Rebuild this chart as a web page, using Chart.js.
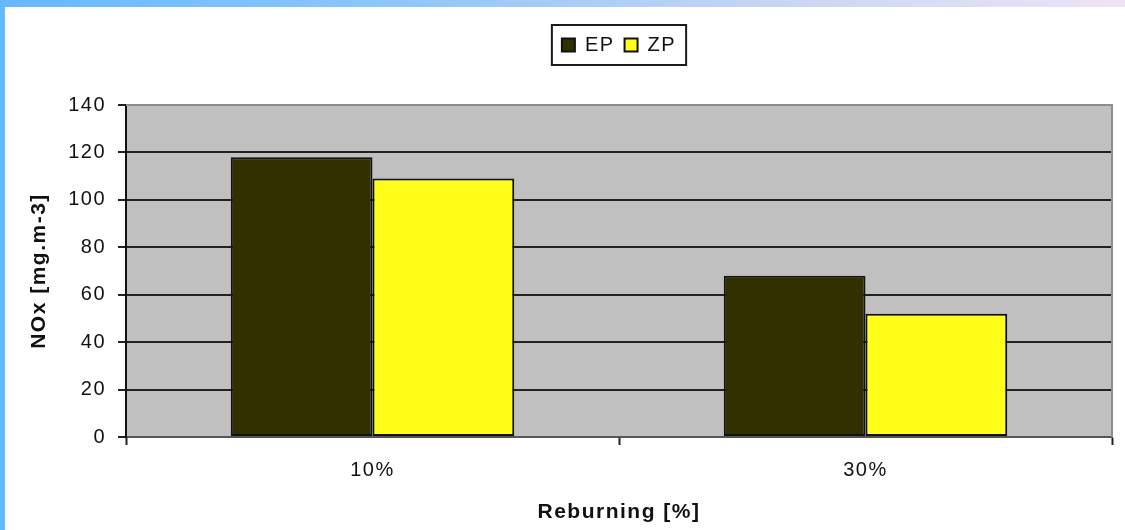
<!DOCTYPE html>
<html>
<head>
<meta charset="utf-8">
<script src="https://cdn.jsdelivr.net/npm/chart.js@4/dist/chart.umd.min.js"></script>
<style>
  html, body { margin: 0; padding: 0; background: #fff; }
  #wrap { position: relative; width: 1125px; height: 530px; overflow: hidden; }
  #topbar { position: absolute; left: 0; top: 0; width: 1125px; height: 7px;
    background: linear-gradient(to right, #66b8ff, #8ec6f8 35%, #c9d6f2 70%, #eee4f6); }
  #leftbar { position: absolute; left: 0; top: 0; width: 5px; height: 530px; background: #66b8ff; }
  canvas { position: absolute; left: 0; top: 0; }
</style>
</head>
<body>
<div id="wrap">
  <canvas id="myChart" width="1125" height="530"></canvas>
  <div id="topbar"></div>
  <div id="leftbar"></div>
</div>
<script>
const categories = ['10%', '30%'];
const epValues = [118, 68];
const zpValues = [109, 52];
const yTicks = [0, 20, 40, 60, 80, 100, 120, 140];

const FONT = 'Liberation Sans, Arial, sans-serif';

// slightly wider text spacing, like the old spreadsheet fonts
const spacing = {
  id: 'spacing',
  beforeUpdate(chart) { chart.ctx.letterSpacing = '1.5px'; },
  beforeDraw(chart) { chart.ctx.letterSpacing = '1.5px'; }
};

// grey plot background + grey top/right frame
const plotArea = {
  id: 'plotArea',
  beforeDraw(chart) {
    const { ctx, chartArea: a } = chart;
    ctx.save();
    ctx.fillStyle = '#c0c0c0';
    ctx.fillRect(a.left, a.top, a.right - a.left, a.bottom - a.top);
    ctx.restore();
  },
  afterDraw(chart) {
    const { ctx, chartArea: a } = chart;
    ctx.save();
    ctx.strokeStyle = '#8c8c8c';
    ctx.lineWidth = 2;
    ctx.beginPath();
    ctx.moveTo(a.left, a.top);
    ctx.lineTo(a.right, a.top);
    ctx.lineTo(a.right, a.bottom);
    ctx.stroke();
    ctx.restore();
  }
};

// legend sits centred over the plot, with a frame round it
const legendBox = {
  id: 'legendBox',
  afterLayout(chart) {
    const lg = chart.legend;
    const a = chart.chartArea;
    lg.left = a.left;
    lg.right = a.right;
    lg.width = a.right - a.left;
    lg.top = 25;
    lg.bottom = 65;
  },
  afterDraw(chart) {
    const boxes = chart.legend.legendHitBoxes;
    if (!boxes || !boxes.length) return;
    const first = boxes[0];
    const last = boxes[boxes.length - 1];
    const ctx = chart.ctx;
    ctx.save();
    ctx.strokeStyle = '#1a1a1a';
    ctx.lineWidth = 2;
    ctx.strokeRect(first.left - 10, first.top - 10, last.left + last.width - first.left + 20, first.height + 20);
    ctx.restore();
  }
};

const ctx = document.getElementById('myChart').getContext('2d');
const chart = new Chart(ctx, {
  type: 'bar',
  data: {
    labels: categories,
    datasets: [
      {
        label: 'EP',
        data: epValues,
        backgroundColor: '#333000',
        borderColor: '#111',
        borderWidth: 2,
        borderSkipped: false
      },
      {
        label: 'ZP',
        data: zpValues,
        backgroundColor: '#ffff1a',
        borderColor: '#111',
        borderWidth: 2,
        borderSkipped: false
      }
    ]
  },
  options: {
    responsive: false,
    animation: false,
    devicePixelRatio: 1,
    categoryPercentage: 0.575,
    barPercentage: 1,
    layout: { padding: { top: 65, right: 13, left: 0, bottom: 0 } },
    plugins: {
      legend: {
        position: 'top',
        labels: {
          color: '#111',
          font: { family: FONT, size: 20 },
          boxWidth: 13,
          boxHeight: 13,
          padding: 10,
          useBorderRadius: false
        }
      },
      tooltip: { enabled: false }
    },
    scales: {
      x: {
        offset: true,
        grid: {
          offset: true,
          drawOnChartArea: false,
          drawTicks: true,
          tickLength: 8,
          tickWidth: 2,
          tickColor: '#222'
        },
        border: { display: true, color: '#555', width: 2 },
        ticks: { color: '#111', font: { family: FONT, size: 20 }, padding: 13 },
        title: {
          display: true,
          text: 'Reburning [%]',
          color: '#111',
          font: { family: FONT, size: 21, weight: 'bold' },
          padding: { top: 0, bottom: 5 }
        },
        afterFit(scale) { scale.height = 93; }
      },
      y: {
        min: 0,
        max: 140,
        afterBuildTicks(scale) { scale.ticks = yTicks.map(v => ({ value: v })); },
        grid: {
          color: ctx => (ctx.tick && ctx.tick.value === 140 ? '#8c8c8c' : '#222'),
          lineWidth: 2,
          drawTicks: true,
          tickLength: 8,
          tickColor: '#222'
        },
        border: { display: true, color: '#111', width: 2 },
        ticks: { color: '#111', font: { family: FONT, size: 20 }, padding: 12 },
        title: {
          display: true,
          text: 'NOx [mg.m-3]',
          color: '#111',
          font: { family: FONT, size: 21, weight: 'bold' },
          padding: { top: 27, bottom: 0 }
        },
        afterFit(scale) { scale.width = 126; }
      }
    }
  },
  plugins: [spacing, plotArea, legendBox]
});
</script>
</body>
</html>
